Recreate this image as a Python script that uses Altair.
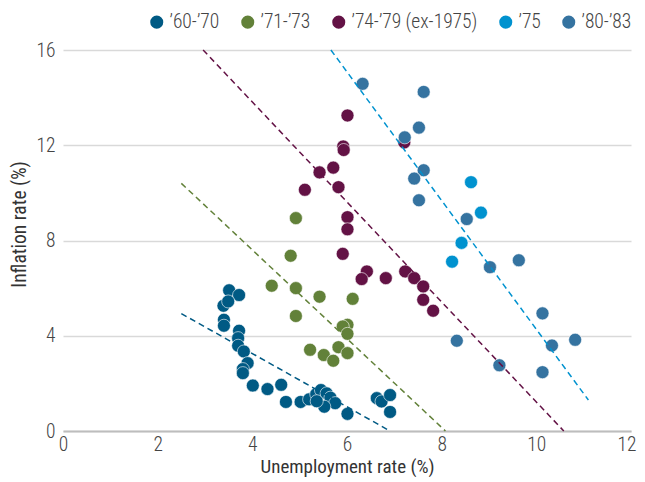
import altair as alt
import pandas as pd

FONT = "Roboto Condensed, Liberation Sans Narrow, Roboto, sans-serif"

series_names = ["\u201960-\u201970", "\u201971-\u201973", "\u201974-\u201979 (ex-1975)", "\u201975", "\u201980-\u201983"]
series_colors = ["#005A84", "#628139", "#631245", "#0092CF", "#3573A0"]

s6070_x = [3.51, 3.72, 3.39, 3.49, 3.40, 3.40, 3.72, 3.70, 3.70, 3.82, 3.90, 3.80, 3.80, 4.01, 4.32, 4.61,
           4.71, 5.02, 5.20, 5.35, 5.45, 5.57, 5.65, 5.75, 5.52, 5.36, 6.01, 6.63, 6.73, 6.91, 6.91]
s6070_y = [5.91, 5.71, 5.26, 5.44, 4.67, 4.42, 4.21, 3.90, 3.58, 3.34, 2.85, 2.60, 2.43, 1.91, 1.76, 1.94,
           1.22, 1.22, 1.33, 1.55, 1.72, 1.58, 1.40, 1.17, 1.02, 1.25, 0.72, 1.38, 1.24, 1.51, 0.80]

s7173_x = [4.92, 4.81, 4.41, 4.92, 5.42, 6.12, 4.92, 6.01, 5.91, 6.01, 5.22, 5.82, 5.51, 5.71, 6.01]
s7173_y = [8.94, 7.36, 6.10, 6.00, 5.64, 5.55, 4.83, 4.46, 4.39, 4.08, 3.41, 3.52, 3.19, 2.95, 3.27]

s7479_x = [6.01, 5.92, 5.93, 5.71, 5.42, 5.11, 5.82, 6.01, 6.01, 5.91, 6.42, 6.31, 6.82, 7.23, 7.42, 7.61,
           7.61, 7.82, 7.21]
s7479_y = [13.25, 11.95, 11.80, 11.06, 10.86, 10.13, 10.24, 8.98, 8.47, 7.44, 6.70, 6.38, 6.42, 6.70, 6.42,
           6.07, 5.51, 5.05, 12.12]

s75_x = [8.62, 8.83, 8.42, 8.22]
s75_y = [10.45, 9.17, 7.90, 7.11]

s8083_x = [6.33, 7.62, 7.52, 7.22, 7.62, 7.42, 7.52, 8.53, 9.02, 9.63, 10.13, 8.32, 10.33, 10.82, 10.13, 9.22]
s8083_y = [14.58, 14.24, 12.74, 12.33, 10.95, 10.60, 9.69, 8.90, 6.88, 7.17, 4.94, 3.79, 3.59, 3.83, 2.47, 2.76]

# dashed trend lines: start / end points
trend_names = ["t6070", "t7173", "t7479", "t75"]
trend_colors = ["#005A84", "#628139", "#631245", "#0092CF"]
trend_x0 = [2.50, 2.50, 2.96, 5.66]
trend_y0 = [4.93, 10.40, 16.00, 16.00]
trend_x1 = [6.91, 8.08, 10.58, 11.10]
trend_y1 = [0.00, 0.00, 0.00, 1.30]

x_ticks = [0, 2, 4, 6, 8, 10, 12]
y_ticks = [0, 4, 8, 12, 16]

rows = []
for name, xs, ys in zip(series_names,
                        [s6070_x, s7173_x, s7479_x, s75_x, s8083_x],
                        [s6070_y, s7173_y, s7479_y, s75_y, s8083_y]):
    for xv, yv in zip(xs, ys):
        rows.append({"series": name, "u": xv, "inf": yv})
pts = pd.DataFrame(rows)

trows = []
for i, n in enumerate(trend_names):
    trows.append({"trend": n, "u": trend_x0[i], "inf": trend_y0[i], "k": 0})
    trows.append({"trend": n, "u": trend_x1[i], "inf": trend_y1[i], "k": 1})
tdf = pd.DataFrame(trows)

xscale = alt.Scale(domain=[0, 12], nice=False, zero=False)
yscale = alt.Scale(domain=[0, 16], nice=False, zero=False)

points = alt.Chart(pts).mark_point(filled=True, opacity=1, size=170, stroke="white", strokeWidth=0.6).encode(
    x=alt.X("u:Q", scale=xscale, axis=alt.Axis(
        values=x_ticks, title="Unemployment rate (%)", grid=False,
        domainColor="#bdbdbd", domainWidth=2, ticks=False,
        labelFlush=False, labelPadding=4, titlePadding=4, titleFontSize=19,
        labelAlign=alt.condition("datum.value == 12", alt.value("right"), alt.value("center")),
        labelOffset=alt.condition("datum.value == 12", alt.value(5), alt.value(0)),
    )),
    y=alt.Y("inf:Q", scale=yscale, axis=alt.Axis(values=y_ticks, title="Inflation rate (%)", grid=True,
                                                gridColor="#d9d9d9", gridWidth=1.5, domain=False, ticks=False,
                                                labelPadding=8, titlePadding=7, titleY=174)),
    color=alt.Color("series:N", scale=alt.Scale(domain=series_names, range=series_colors),
                    legend=alt.Legend(title=None, orient="none", legendX=84, legendY=-38, direction="horizontal",
                                      symbolType="circle", symbolSize=170, symbolStrokeWidth=0,
                                      labelFontSize=19.5, labelColor="#444444", labelFont=FONT,
                                      labelFontWeight=300,
                                      columnPadding=18, labelOffset=3)),
    order=alt.Order("series_idx:Q"),
).transform_calculate(
    series_idx="indexof(" + str(series_names) + ", datum.series)"
)

lines = alt.Chart(tdf).mark_line(strokeDash=[6, 4], strokeWidth=1.5).encode(
    x=alt.X("u:Q", scale=xscale),
    y=alt.Y("inf:Q", scale=yscale),
    color=alt.Color("trend:N", scale=alt.Scale(domain=trend_names, range=trend_colors), legend=None),
    order="k:Q",
)

chart = alt.layer(points, lines).resolve_scale(color="independent").properties(
    width=568, height=381,
    autosize=alt.AutoSizeParams(type="none"),
    padding={"left": 55, "top": 42, "right": 6, "bottom": 46},
).configure_view(stroke=None).configure_axis(
    labelFont=FONT, titleFont=FONT, labelFontSize=19.5, titleFontSize=19.5,
    labelFontWeight=300, titleFontWeight="normal",
    labelColor="#444444", titleColor="#333333",
)

chart.save("out.html", embed_options={"renderer": "svg", "actions": False})
